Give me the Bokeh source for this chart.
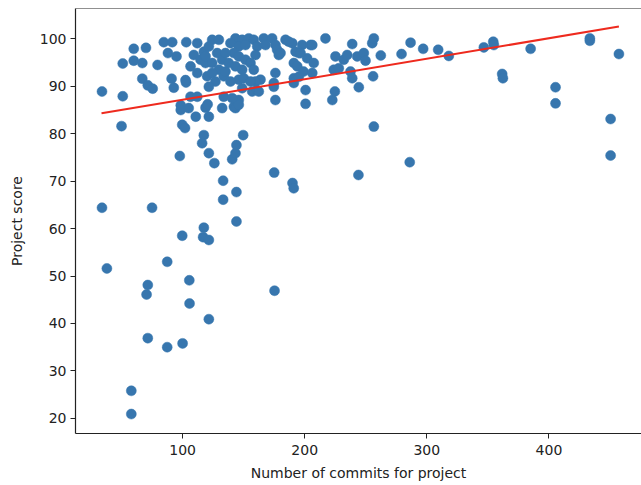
from bokeh.plotting import figure
from bokeh.models import Range1d, FixedTicker, Span
from bokeh.embed import file_html
from bokeh.resources import INLINE

commits = [
    34, 34, 38, 51, 50, 51, 58, 58,
    60, 70, 60, 67, 67, 71.5, 75.5, 79.5,
    71.5, 70.5, 71.5, 75,
    84.6, 91.5, 88, 95, 103, 112,
    91, 92.8, 102.8,
    87.4, 87.4, 100, 105.5, 105.7,
    97.7, 99.7,
    98.5, 106.5, 112, 98.5, 105, 110.8, 118.8, 120.5, 121.5,
    99.7, 102,
    117.4, 116, 121.5, 126,
    117.4, 116.8, 121.5, 121.5,
    109.2, 117.4, 114.7, 118.8, 106.5, 112, 120.1, 102.4,
    133.2, 133.2, 140.6, 143.3, 144.1, 144.1, 144.1, 149.6,
    142, 146, 143.3, 146,
    124.2, 129.7, 121.5, 128.3, 132.4, 124.2, 118.8, 129.7, 124.2, 133.7, 126.9, 121.5,
    133.7, 140.6, 132.4,
    143.3, 148.8, 139.2, 146, 141.9, 135.1, 146, 137.8, 143.3, 148.8, 151.5, 135.1, 146, 139.2, 148.8, 157,
    154.2, 158.3, 151.5, 161.1, 159.7, 155.6, 158.3, 163.8, 159.7, 150.1, 155.6,
    166.5, 173.3, 167.9, 176.1, 177.4, 178.8, 180.2,
    176, 174.7, 174.7, 161, 162.4, 176,
    184.3, 189.8, 187, 197.9, 195.2, 192.5, 191.1, 191.1, 191.1, 193.9, 195.2, 199, 202, 196.6,
    204.8, 206.2, 207.4, 206.2, 200.7, 200.7,
    175.3, 175, 190, 191,
    217, 223.8, 222.6, 224.7,
    225.2, 227.9, 232, 234.8, 238.9, 243, 248.4, 249.8, 237.5, 238.9, 244.3, 256, 255.3, 256.6, 262.3, 256.6, 244,
    279.3, 286.7, 286, 297, 309.3, 318,
    346.7, 354.4, 354.9, 361.7, 362.3, 385, 405.4, 405.4, 433.5, 433.5, 450.5, 450.5, 457.3,
]

scores = [
    88.9, 64.4, 51.6, 87.9, 81.6, 94.8, 25.8, 20.9,
    97.9, 98.1, 95.4, 94.9, 91.6, 90.2, 89.5, 94.5,
    48.1, 46.1, 36.9, 64.4,
    99.3, 99.3, 97, 96.3, 99.3, 99.1,
    91.6, 89.7, 90.8,
    53, 35, 35.8, 49.1, 44.2,
    75.3, 58.5,
    86, 87.8, 87.8, 85, 85.4, 83.6, 85.5, 86.2, 83.6,
    81.9, 81.2,
    79.7, 78, 75.9, 73.8,
    60.2, 58.2, 57.6, 40.9,
    96.6, 97.3, 95.6, 94.9, 94.2, 92.8, 92.1, 91.3,
    70.1, 66.1, 74.6, 75.9, 77.6, 67.7, 61.5, 79.7,
    85.7, 87.1, 85.4, 86.1,
    99.8, 99.8, 98.4, 97, 95.6, 94.9, 96.3, 93.5, 92.8, 92.1, 91, 89.9,
    87.8, 87.5, 85.4,
    100.1, 99.8, 99.1, 98.4, 97, 97, 96.3, 94.9, 94.2, 93.5, 95.6, 93.1, 91.4, 91, 89.6, 88.9,
    100.1, 99.8, 98.7, 98.4, 96.6, 94.9, 93.5, 91.4, 91, 91.7, 91,
    100.1, 100.1, 98.7, 98.7, 97.7, 96.6, 97,
    92.8, 90.7, 89.9, 89.2, 88.9, 87.1,
    99.8, 99.1, 99.4, 98.7, 97, 97.3, 94.9, 91.7, 90.7, 94.2, 92, 93.1, 95.9, 97,
    98.7, 98.7, 94.9, 92.8, 89.2, 86.3,
    46.9, 71.8, 69.6, 68.5,
    100.1, 93.5, 87.1, 88.9,
    96.3, 93.8, 95.6, 96.6, 98.9, 96.3, 97, 95.4, 93.1, 91.7, 89.8, 92.1, 99.1, 100.1, 96.5, 81.5, 71.3,
    96.8, 99.2, 74, 97.9, 97.7, 96.4,
    98.2, 99.4, 98.7, 92.6, 91.7, 97.9, 89.8, 86.4, 100.1, 99.6, 83.1, 75.4, 96.8,
]

fit_x = [33.6, 457.3]
fit_y = [84.3, 102.6]

x_ticks = [100, 200, 300, 400]
y_ticks = [20, 30, 40, 50, 60, 70, 80, 90, 100]

FONT = "DejaVu Sans"

p = figure(width=641, height=485, output_backend="svg", toolbar_location=None,
           x_range=Range1d(12.3, 475.8), y_range=Range1d(16.8, 106.4),
           min_border_left=75, min_border_right=0, min_border_top=8, min_border_bottom=52)
p.background_fill_color = "white"
p.border_fill_color = "white"
p.outline_line_color = None
p.xgrid.visible = False
p.ygrid.visible = False

p.scatter(commits, scores, size=10, fill_color="#3776ae", line_color="#3776ae", line_width=0.5)
p.line(fit_x, fit_y, line_color="#ee2a1e", line_width=2)

p.add_layout(Span(location=106.4, dimension="width", line_color="#222222", line_width=1.2))

for ax in (p.xaxis[0], p.yaxis[0]):
    ax.axis_line_color = "#222222"
    ax.axis_line_width = 1.2
    ax.major_tick_line_color = "#222222"
    ax.major_tick_out = 5
    ax.major_tick_in = 0
    ax.minor_tick_line_color = None
    ax.major_label_text_font = FONT
    ax.major_label_text_font_size = "14px"
    ax.major_label_text_color = "#222222"
    ax.axis_label_text_font = FONT
    ax.axis_label_text_font_size = "14px"
    ax.axis_label_text_font_style = "normal"
    ax.axis_label_text_color = "#222222"

p.xaxis.ticker = FixedTicker(ticks=x_ticks)
p.yaxis.ticker = FixedTicker(ticks=y_ticks)
p.xaxis.axis_label = "Number of commits for project"
p.yaxis.axis_label = "Project score"
p.xaxis.major_label_standoff = 6
p.yaxis.major_label_standoff = 4
p.xaxis.axis_label_standoff = 7
p.yaxis.axis_label_standoff = 12

open("out.html", "w").write(file_html(p, INLINE))
